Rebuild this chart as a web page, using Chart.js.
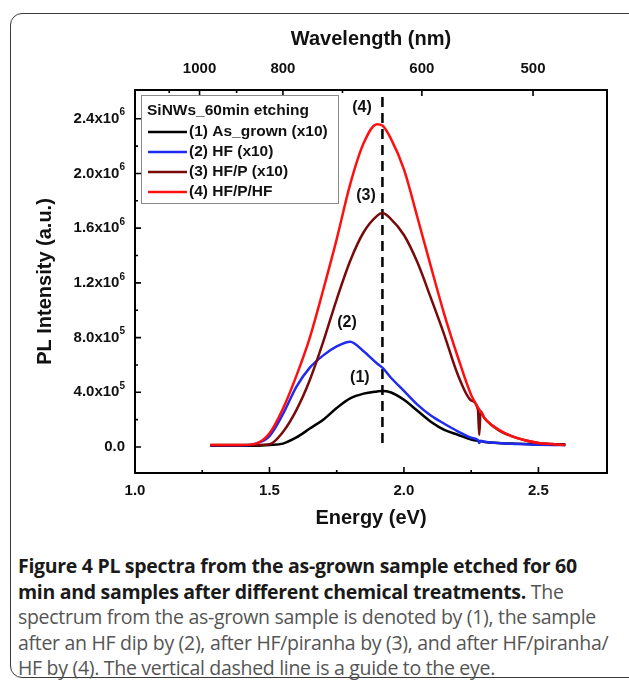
<!DOCTYPE html>
<html>
<head>
<meta charset="utf-8">
<script src="https://cdn.jsdelivr.net/npm/chart.js@4.4.1/dist/chart.umd.min.js"></script>
<style>
  html, body { margin: 0; padding: 0; background: #fff; }
  body { width: 629px; height: 682px; position: relative; overflow: hidden; }
  .card {
    position: absolute; left: 10px; top: 13px; width: 640px; height: 665px;
    border: 1.5px solid #3a3a3a; border-radius: 12px; box-sizing: border-box;
  }
  .plot { position: absolute; left: 0; top: 0; width: 629px; height: 540px; }
  .caption {
    position: absolute; left: 18px; top: 553px; width: 605px;
    font-family: "Open Sans", "Noto Sans", sans-serif; font-size: 19.5px;
    line-height: 25.5px; color: #555; white-space: nowrap; letter-spacing: -0.3px;
  }
  .caption b { color: #1a1a1a; font-weight: 700; }
</style>
</head>
<body>
<div class="card"></div>
<div class="plot"><canvas id="plChart" width="629" height="540"></canvas></div>
<div class="caption">
  <b>Figure 4 PL spectra from the as-grown sample etched for 60</b><br>
  <b>min and samples after different chemical treatments.</b> The<br>
  spectrum from the as-grown sample is denoted by (1), the sample<br>
  after an HF dip by (2), after HF/piranha by (3), and after HF/piranha/<br>
  HF by (4). The vertical dashed line is a guide to the eye.
</div>

<script>
  // ── data (energies in eV, intensities in a.u.) ──
  const ENERGY = [1.28, 1.30, 1.35, 1.40, 1.45, 1.50, 1.55, 1.60, 1.65, 1.70, 1.75, 1.80, 1.85, 1.90, 1.92,
                  1.95, 2.00, 2.05, 2.10, 2.15, 2.20, 2.25, 2.275, 2.28, 2.285, 2.30, 2.35, 2.40, 2.45, 2.50, 2.55, 2.60];

  const AS_GROWN = [1.0e4, 1.0e4, 1.0e4, 1.0e4, 1.0e4, 1.5e4, 2.5e4, 7.0e4, 1.35e5, 2.0e5, 2.85e5, 3.55e5, 3.9e5, 4.06e5, 4.1e5,
                    4.0e5, 3.45e5, 2.65e5, 1.85e5, 1.25e5, 9.0e4, 5.5e4, 4.5e4, 4.4e4, 4.2e4, 3.7e4, 3.0e4, 2.5e4, 2.2e4, 2.0e4, 2.0e4, 2.0e4];

  const HF = [1.2e4, 1.2e4, 1.2e4, 1.2e4, 2.5e4, 8.0e4, 2.4e5, 4.4e5, 5.8e5, 6.7e5, 7.35e5, 7.7e5, 7.0e5, 6.1e5, 5.8e5,
              5.1e5, 4.1e5, 3.1e5, 2.3e5, 1.7e5, 1.15e5, 6.8e4, 5.0e4, 3.0e4, 4.6e4, 3.8e4, 3.0e4, 2.4e4, 2.0e4, 1.6e4, 1.5e4, 1.5e4];

  const HF_P = [1.5e4, 1.5e4, 1.5e4, 1.5e4, 1.5e4, 2.0e4, 1.1e5, 2.7e5, 4.9e5, 7.7e5, 1.08e6, 1.36e6, 1.57e6, 1.69e6, 1.71e6,
                1.67e6, 1.55e6, 1.35e6, 1.09e6, 8.2e5, 5.3e5, 3.4e5, 2.75e5, 8.8e4, 2.6e5, 2.1e5, 1.25e5, 8.0e4, 5.0e4, 3.0e4, 2.2e4, 1.5e4];

  const HF_P_HF = [1.5e4, 1.5e4, 1.5e4, 1.5e4, 2.5e4, 1.0e5, 2.8e5, 5.2e5, 8.0e5, 1.15e6, 1.52e6, 1.92e6, 2.22e6, 2.36e6, 2.35e6,
                   2.26e6, 2.03e6, 1.68e6, 1.32e6, 9.7e5, 6.6e5, 3.8e5, 2.9e5, 2.75e5, 2.6e5, 2.1e5, 1.3e5, 8.0e4, 5.0e4, 3.0e4, 2.2e4, 1.5e4];

  const SERIES_LABELS = ['(1) As_grown (x10)', '(2) HF (x10)', '(3) HF/P (x10)', '(4) HF/P/HF'];
  const LEGEND_TITLE = 'SiNWs_60min etching';

  // guide line
  const GUIDE_E = [1.92, 1.92];
  const GUIDE_V = [3.0e4, 2.6e6];

  // curve labels
  const ANNOT_TEXT = ['(1)', '(2)', '(3)', '(4)'];
  const ANNOT_E = [1.836, 1.788, 1.859, 1.844];
  const ANNOT_V = [5.1e5, 9.1e5, 1.84e6, 2.48e6];

  // axes
  const X_MIN = 1.0, X_MAX = 2.755;
  const Y_MIN = -1.9e5, Y_MAX = 2.61e6;
  const X_TICKS = [1.0, 1.5, 2.0, 2.5];
  const X_MINOR = [1.25, 1.75, 2.25];
  const Y_TICKS = [0, 4e5, 8e5, 1.2e6, 1.6e6, 2.0e6, 2.4e6];
  const Y_TICK_BASE = ['0.0', '4.0x10', '8.0x10', '1.2x10', '1.6x10', '2.0x10', '2.4x10'];
  const Y_TICK_EXP = ['', '5', '5', '6', '6', '6', '6'];
  const Y_MINOR = [2e5, 6e5, 1.0e6, 1.4e6, 1.8e6, 2.2e6];
  const WAVE_TICKS = [1000, 800, 600, 500];
  const WAVE_MINOR = [1100, 900, 700];
  const HC = 1240; // eV·nm

  const COLORS = {
    black: '#000000',
    blue: '#1f2bf0',
    darkred: '#7a0a0a',
    red: '#ff1010'
  };
  const SERIES_COLORS = [COLORS.black, COLORS.blue, COLORS.darkred, COLORS.red];

  const AX_FONT = '"Liberation Sans", Arial, sans-serif';

  function pts(xs, ys) { return xs.map((x, i) => ({ x: x, y: ys[i] })); }

  const seriesData = [AS_GROWN, HF, HF_P, HF_P_HF];

  const datasets = seriesData.map((vals, i) => ({
    label: SERIES_LABELS[i],
    data: pts(ENERGY, vals),
    borderColor: SERIES_COLORS[i],
    borderWidth: 2.5,
    pointRadius: 0,
    cubicInterpolationMode: 'monotone',
    fill: false,
    order: 4 - i
  }));

  datasets.push({
    label: 'guide',
    data: pts(GUIDE_E, GUIDE_V),
    borderColor: '#000',
    borderWidth: 2.5,
    borderDash: [10, 6],
    pointRadius: 0,
    fill: false,
    order: 10
  });

  // ── axes frame, inward ticks, y labels with superscripts, legend, annotations ──
  const decor = {
    id: 'decor',
    afterDatasetsDraw(chart) {
      const c = chart.ctx;
      const a = chart.chartArea;
      const xs = chart.scales.x, ys = chart.scales.y;
      c.save();

      // frame
      c.strokeStyle = '#000';
      c.lineWidth = 2;
      c.strokeRect(a.left, a.top, a.right - a.left, a.bottom - a.top);

      c.lineWidth = 1.6;
      c.beginPath();
      const tick = (x1, y1, x2, y2) => { c.moveTo(x1, y1); c.lineTo(x2, y2); };
      X_TICKS.forEach(v => { const p = xs.getPixelForValue(v); tick(p, a.bottom, p, a.bottom - 6); });
      X_MINOR.forEach(v => { const p = xs.getPixelForValue(v); tick(p, a.bottom, p, a.bottom - 3); });
      WAVE_TICKS.forEach(w => { const p = xs.getPixelForValue(HC / w); tick(p, a.top, p, a.top + 6); });
      WAVE_MINOR.forEach(w => { const p = xs.getPixelForValue(HC / w); tick(p, a.top, p, a.top + 3); });
      Y_TICKS.forEach(v => { const p = ys.getPixelForValue(v); tick(a.left, p, a.left + 6, p); });
      Y_MINOR.forEach(v => { const p = ys.getPixelForValue(v); tick(a.left, p, a.left + 3, p); });
      c.stroke();

      // y labels
      c.fillStyle = '#111';
      c.textBaseline = 'middle';
      Y_TICKS.forEach((v, i) => {
        const p = ys.getPixelForValue(v);
        const right = a.left - 10;
        c.font = 'bold 10px ' + AX_FONT;
        const ew = Y_TICK_EXP[i] ? c.measureText(Y_TICK_EXP[i]).width : 0;
        c.textAlign = 'right';
        c.fillText(Y_TICK_EXP[i], right, p - 6);
        c.font = 'bold 15px ' + AX_FONT;
        c.fillText(Y_TICK_BASE[i], right - ew, p);
      });

      // legend box
      const lx = 141, ly = 95, lw = 197, lh = 108;
      c.fillStyle = '#fff';
      c.fillRect(lx, ly, lw, lh);
      c.strokeStyle = '#8a8a8a';
      c.lineWidth = 1;
      c.strokeRect(lx + 0.5, ly + 0.5, lw, lh);
      c.fillStyle = '#111';
      c.textAlign = 'left';
      c.font = 'bold 15.5px ' + AX_FONT;
      c.fillText(LEGEND_TITLE, lx + 6, ly + 16);
      SERIES_LABELS.forEach((lab, i) => {
        const yy = ly + 37 + i * 20;
        c.strokeStyle = SERIES_COLORS[i];
        c.lineWidth = 2.5;
        c.beginPath();
        c.moveTo(lx + 7, yy);
        c.lineTo(lx + 46, yy);
        c.stroke();
        c.fillText(lab, lx + 48, yy);
      });

      // curve labels
      c.font = 'bold 16px ' + AX_FONT;
      c.textAlign = 'center';
      ANNOT_TEXT.forEach((t, i) => {
        c.fillText(t, xs.getPixelForValue(ANNOT_E[i]), ys.getPixelForValue(ANNOT_V[i]));
      });
      c.restore();
    }
  };

  new Chart(document.getElementById('plChart').getContext('2d'), {
    type: 'line',
    data: { datasets },
    options: {
      responsive: false,
      animation: false,
      layout: { padding: { left: 29, right: 22, top: 23, bottom: 6 } },
      plugins: { legend: { display: false }, tooltip: { enabled: false } },
      scales: {
        x: {
          type: 'linear', position: 'bottom', min: X_MIN, max: X_MAX,
          grid: { display: false, drawTicks: false },
          border: { display: false },
          afterBuildTicks: s => { s.ticks = X_TICKS.map(v => ({ value: v })); },
          afterFit: s => { s.height = 61; },
          ticks: {
            padding: 9, color: '#111', maxRotation: 0,
            font: { family: AX_FONT, size: 15, weight: 'bold' },
            callback: v => v.toFixed(1)
          },
          title: { display: true, text: 'Energy (eV)', color: '#111', padding: 4,
                   font: { family: AX_FONT, size: 20, weight: 'bold' } }
        },
        x2: {
          type: 'linear', position: 'top', min: X_MIN, max: X_MAX,
          grid: { display: false, drawTicks: false },
          border: { display: false },
          afterBuildTicks: s => { s.ticks = WAVE_TICKS.map(w => ({ value: HC / w })); },
          afterFit: s => { s.height = 67; },
          ticks: {
            padding: 12, color: '#111', maxRotation: 0,
            font: { family: AX_FONT, size: 15, weight: 'bold' },
            callback: v => String(Math.round(HC / v / 10) * 10)
          },
          title: { display: true, text: 'Wavelength (nm)', color: '#111', padding: 4,
                   font: { family: AX_FONT, size: 20, weight: 'bold' } }
        },
        y: {
          type: 'linear', min: Y_MIN, max: Y_MAX,
          grid: { display: false, drawTicks: false },
          border: { display: false },
          afterBuildTicks: s => { s.ticks = Y_TICKS.map(v => ({ value: v })); },
          afterFit: s => { s.width = 106; },
          ticks: { display: false },
          title: { display: true, text: 'PL Intensity (a.u.)', color: '#111', padding: 4,
                   font: { family: AX_FONT, size: 20, weight: 'bold' } }
        }
      }
    },
    plugins: [decor]
  });
</script>
</body>
</html>
